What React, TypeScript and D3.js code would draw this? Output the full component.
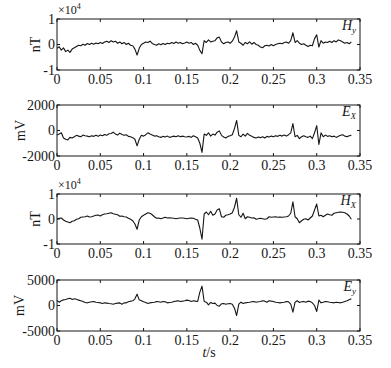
import React from "react";
import * as d3 from "d3";

// sample times (s), step 0.0025 s, 0 .. 0.34
const sampleCount = 137;
const timeStep = 0.0025;
const times = d3.range(sampleCount).map((i) => i * timeStep);

// Hy in units of 10^4 nT
const hyValues = [
  -0.15, -0.09, -0.22, -0.13, -0.28, -0.22, -0.31, -0.18, -0.13, -0.08,
  -0.03, -0.05, 0.01, -0.03, 0.04, 0, 0.05, 0.01, 0.06, 0.03,
  0.08, 0.04, 0.1, 0.13, 0.08, 0.15, 0.1, 0.13, 0.05, 0.1,
  0.03, 0.08, 0, 0.05, -0.03, -0.05, -0.18, -0.41, -0.15, 0,
  0.05, 0.1, 0.08, 0.13, 0.04, 0, -0.03, 0.03, -0.01, 0.04,
  0, 0.05, 0.03, 0.08, 0.04, 0.1, 0.05, 0.08, 0.03, 0.06,
  0.1, 0.05, 0.08, 0, 0.05, -0.03, -0.23, -0.36, 0.15, 0.08,
  0.18, 0.1, 0.13, 0.15, 0.26, 0.29, 0.1, 0.03, 0.08, 0.1,
  0.05, 0.13, 0.29, 0.54, 0.1, 0.05, -0.03, 0.08, 0.03, 0.1,
  0.01, 0.08, 0, -0.03, -0.1, -0.13, -0.05, -0.03, -0.06, 0,
  -0.05, 0, 0.03, 0.05, 0.03, 0.08, 0.1, 0.05, 0.15, 0.46,
  0.08, 0.15, 0.05, 0, 0.03, -0.03, -0.08, -0.03, -0.05, 0.23,
  0.38, -0.1, 0.15, 0.05, 0.1, 0.08, 0.13, 0.08, 0.15, 0.1,
  0.18, 0.15, 0.1, 0.05, 0.08, 0.03, 0.1,
];

// Ex in mV
const exValues = [
  -360, -280, -180, -590, -690, -740, -540, -590, -490, -380,
  -440, -490, -360, -410, -440, -490, -410, -460, -380, -460,
  -360, -410, -310, -380, -260, -230, -130, -280, -360, -205,
  -310, -380, -330, -460, -490, -560, -690, -1200, -690, -380,
  -440, -330, -180, -280, -360, -440, -410, -490, -540, -460,
  -510, -440, -540, -490, -440, -490, -410, -490, -440, -490,
  -510, -460, -540, -410, -490, -590, -1000, -1720, -280, -380,
  -180, -440, -280, -360, -130, -30, -380, -510, -590, -460,
  -410, -330, 150, 790, -380, -490, -280, -440, -230, -380,
  -460, -540, -590, -510, -560, -490, -590, -460, -510, -440,
  -490, -410, -460, -380, -440, -360, -440, -330, -180, 540,
  -490, -380, -640, -490, -410, -490, -540, -440, -640, -180,
  380, -1100, -180, -490, -360, -460, -410, -490, -440, -540,
  -460, -380, -330, -440, -490, -410, -380,
];

// Hx in units of 10^4 nT
const hxValues = [
  -0.01, 0.03, 0.04, -0.04, -0.09, -0.12, -0.15, -0.09, -0.07, -0.01,
  0.01, 0.07, 0.08, 0.09, 0.12, 0.08, 0.09, 0.12, 0.15, 0.16,
  0.12, 0.17, 0.2, 0.21, 0.23, 0.25, 0.21, 0.19, 0.17, 0.11,
  0.12, 0.09, 0.08, 0.03, -0.01, -0.07, -0.2, -0.41, -0.04, 0.09,
  0.15, 0.2, 0.25, 0.23, 0.17, 0.09, 0.03, 0.04, 0.01, 0.04,
  0.07, 0.04, 0.05, 0.04, 0.03, 0.01, 0.03, 0.04, 0.04, 0.03,
  0.01, 0.03, 0.04, 0.03, -0.01, -0.04, -0.37, -0.81, 0.2, 0.28,
  0.17, 0.31, 0.15, 0.2, 0.36, 0.41, 0.09, 0.07, 0.15, 0.17,
  0.2, 0.25, 0.47, 0.83, 0.17, 0.07, 0.23, 0.01, 0.09, 0.07,
  0.04, 0.05, -0.01, 0.01, 0.03, 0.01, -0.01, 0.01, 0.09, 0.07,
  0.08, 0.09, 0.07, 0.08, 0.07, 0.08, 0.09, 0.12, 0.23, 0.69,
  0.09, 0.01, -0.15, -0.07, -0.01, 0.01, -0.04, 0.04, 0.12, 0.36,
  0.6, 0.12, 0.15, 0.09, 0.15, 0.2, 0.17, 0.15, 0.23, 0.25,
  0.27, 0.28, 0.27, 0.25, 0.2, 0.12, -0.01,
];

// Ey in mV
const eyValues = [
  980, 650, 920, 1110, 1180, 1310, 1440, 1180, 1310, 1240,
  1050, 920, 790, 590, 520, 650, 720, 790, 650, 590,
  520, 390, 520, 460, 390, 330, 260, 390, 460, 520,
  260, 520, 520, 720, 850, 920, 1310, 2220, 1110, 920,
  720, 590, 390, 520, 590, 650, 790, 720, 650, 790,
  720, 520, 590, 650, 790, 850, 920, 790, 850, 920,
  1050, 980, 790, 920, 850, 790, 2620, 3790, 790, 650,
  130, 590, 390, 460, 0, -130, 330, 390, 260, 330,
  390, 260, -520, -1960, 260, 650, 390, 520, 590, 650,
  720, 790, 650, 720, 790, 920, 850, 650, 920, 850,
  790, 650, 590, 520, 590, 650, 790, 720, 260, -1310,
  650, 920, 590, 720, 790, 650, 850, 790, 520, 0,
  -1180, 1050, 520, 650, 790, 720, 650, 590, 520, 650,
  590, 520, 650, 790, 920, 1110, 1310,
];

const xTicks = [0, 0.05, 0.1, 0.15, 0.2, 0.25, 0.3, 0.35];
const xTickLabels = ["0", "0.05", "0.1", "0.15", "0.2", "0.25", "0.3", "0.35"];

const panelNames = ["H", "E", "H", "E"];
const panelSubs = ["y", "X", "X", "y"];
const panelUnits = ["nT", "mV", "nT", "mV"];
const panelDomains = [[-1, 1], [-2000, 2000], [-1, 1], [-5000, 5000]];
const panelYTicks = [[-1, 0, 1], [-2000, 0, 2000], [-1, 0, 1], [-5000, 0, 5000]];
const panelYTickLabels = [["-1", "0", "1"], ["-2000", "0", "2000"], ["-1", "0", "1"], ["-5000", "0", "5000"]];
const panelExponent = [true, false, true, false];
const panelSeries = [hyValues, exValues, hxValues, eyValues];

// layout
const W = 391;
const H = 368;
const left = 57;
const right = 360;
const panelTops = [19, 105, 194, 280];
const panelBottoms = [70, 156, 244, 331];
const unitX = [35, 20, 35, 19];
const font = "'Liberation Serif', 'Times New Roman', 'DejaVu Serif', serif";
const ink = "#161616";
const fs = 14;

export default function App() {
  const x = d3.scaleLinear().domain([0, 0.35]).range([left, right]);
  const textStyle = { fontFamily: font };
  return (
    <svg
      width={W}
      height={H}
      viewBox={`0 0 ${W} ${H}`}
      style={{ position: "absolute", left: 0, top: 0, background: "#fff" }}
    >
      <rect x={0} y={0} width={W} height={H} fill="#fff" />
      {panelSeries.map((vals, p) => {
        const top = panelTops[p];
        const bottom = panelBottoms[p];
        const y = d3.scaleLinear().domain(panelDomains[p]).range([bottom, top]);
        const line = d3
          .line<number>()
          .x((_, i) => x(times[i]))
          .y((d) => y(d));
        const mid = (top + bottom) / 2;
        return (
          <g key={p}>
            <path d={line(vals) || ""} fill="none" stroke={ink} strokeWidth={1.1} strokeLinejoin="round" />
            <rect x={left} y={top} width={right - left} height={bottom - top} fill="none" stroke={ink} strokeWidth={1} />
            {xTicks.map((t, i) => (
              <g key={"xt" + i}>
                <line x1={x(t)} x2={x(t)} y1={bottom} y2={bottom - 3} stroke={ink} strokeWidth={1} />
                <line x1={x(t)} x2={x(t)} y1={top} y2={top + 3} stroke={ink} strokeWidth={1} />
                <text x={x(t)} y={bottom + 14} fontSize={fs} textAnchor="middle" fill={ink} style={textStyle}>
                  {xTickLabels[i]}
                </text>
              </g>
            ))}
            {panelYTicks[p].map((v, i) => (
              <g key={"yt" + i}>
                <line x1={left} x2={left + 3} y1={y(v)} y2={y(v)} stroke={ink} strokeWidth={1} />
                <line x1={right} x2={right - 3} y1={y(v)} y2={y(v)} stroke={ink} strokeWidth={1} />
                <text x={left - 2} y={y(v)} dy="0.35em" fontSize={fs} textAnchor="end" fill={ink} style={textStyle}>
                  {panelYTickLabels[p][i]}
                </text>
              </g>
            ))}
            {panelExponent[p] && (
              <text x={left + 1} y={top - 5} fontSize={12} fill={ink} style={textStyle}>
                ×10
                <tspan fontSize={8} dy={-5}>
                  4
                </tspan>
              </text>
            )}
            <text
              transform={`translate(${unitX[p]},${mid}) rotate(-90)`}
              dy="0.35em"
              fontSize={fs}
              textAnchor="middle"
              fill={ink}
              style={textStyle}
            >
              {panelUnits[p]}
            </text>
            <text x={right - 4} y={top + 11} fontSize={fs} textAnchor="end" fill={ink} fontStyle="italic" style={textStyle}>
              {panelNames[p]}
              <tspan fontSize={9} dy={3}>
                {panelSubs[p]}
              </tspan>
            </text>
          </g>
        );
      })}
      <text x={209} y={357} fontSize={fs} textAnchor="middle" fill={ink} style={textStyle}>
        <tspan fontStyle="italic">t</tspan>/s
      </text>
    </svg>
  );
}
